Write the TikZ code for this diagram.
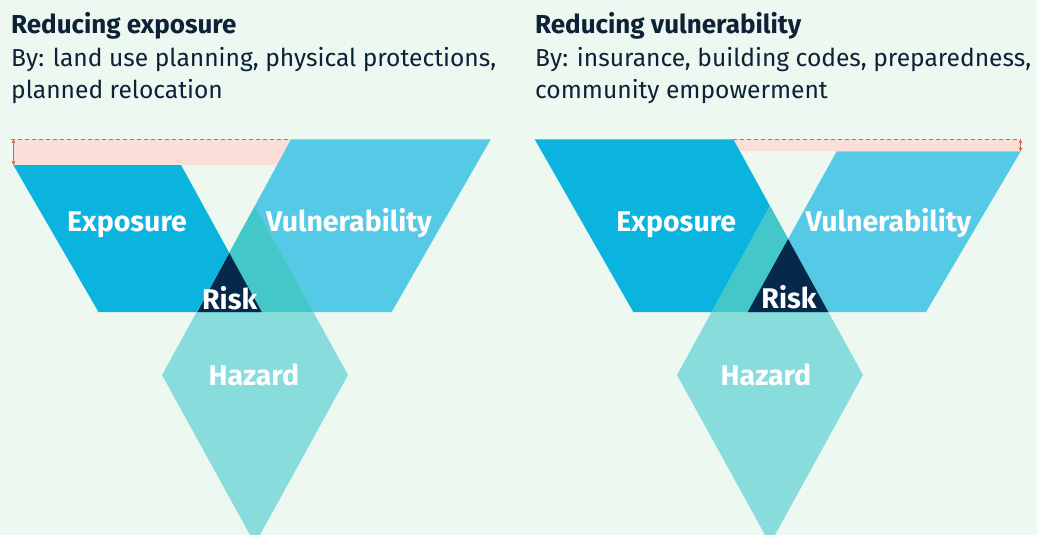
\documentclass[tikz,border=0pt]{standalone}
\usepackage{fontspec}
\setmainfont{Fira Sans}
\usetikzlibrary{arrows.meta}
\definecolor{rrbg}{HTML}{EDF8F1}
\definecolor{rrdark}{HTML}{0E2237}
\definecolor{rrexpo}{HTML}{0AB4DE}
\definecolor{rrvuln}{HTML}{55CAE6}
\definecolor{rrhaz}{HTML}{88DDDC}
\definecolor{rrmix}{HTML}{44C7C9}
\definecolor{rrrisk}{HTML}{06284A}
\definecolor{rrpink}{HTML}{FCDED8}
\definecolor{rrred}{HTML}{E5603E}
\tikzset{
  hd/.style={anchor=base west,inner sep=0pt,text=rrdark,
             font=\fontsize{26}{30}\selectfont\bfseries},
  txt/.style={anchor=base west,inner sep=0pt,text=rrdark,
              font=\fontsize{24.6}{30}\selectfont},
  lbl/.style={anchor=base,inner sep=0pt,text=white!94!rrbg,
              font=\fontsize{28.5}{30}\selectfont\bfseries},
  gap/.style={fill=rrpink},
  gapline/.style={draw=rrred,line width=1pt,dash pattern=on 4pt off 3pt},
  dim/.style={draw=rrred,line width=1pt,
              {Stealth[length=4pt,width=4pt]}-{Stealth[length=4pt,width=4pt]}},
}
% the three areas of each panel, as paths (pixel units, y pointing down)
\newcommand{\expL}{(13.3,165) -- (181,165) -- (261.7,312) -- (98.5,312) -- cycle}
\newcommand{\vulL}{(291,139.3) -- (490.7,139.3) -- (391.7,312) -- (197.3,312) -- cycle}
\newcommand{\hazL}{(255,206) -- (348,375) -- (255,544) -- (162,375) -- cycle}
\newcommand{\expR}{(534.7,139.3) -- (733.3,139.3) -- (828.3,312) -- (633.3,312) -- cycle}
\newcommand{\vulR}{(836.7,151.3) -- (1020.7,151.3) -- (926,312) -- (747.7,312) -- cycle}
\newcommand{\hazR}{(770,206) -- (863,375) -- (770,544) -- (677,375) -- cycle}
\begin{document}
\begin{tikzpicture}[x=1pt,y=-1pt]
  \useasboundingbox (0,0) rectangle (1037,535);
  \fill[rrbg] (0,0) rectangle (1037,535);
  \clip (0,0) rectangle (1037,535);

  % headings
  \node[hd] (tl) at (11,34) {Reducing exposure};
  \node[txt] (tl1) at (11,66.5) {By: land use planning, physical protections,};
  \node[txt] (tl2) at (11,99) {planned relocation};
  \node[hd] (tr) at (535,34) {Reducing vulnerability};
  \node[txt] (tr1) at (535,66.5) {By: insurance, building codes, preparedness,};
  \node[txt] (tr2) at (535,99) {community empowerment};

  % reduced margin bands
  \fill[gap] (13.3,139.3) rectangle (291,165);
  \fill[gap] (733.3,139.3) rectangle (1020.7,151.3);
  \coordinate (gLa) at (11,139.3);
  \coordinate (gLb) at (291,139.3);
  \coordinate (gRa) at (733.3,139.3);
  \coordinate (gRb) at (1020.7,139.3);
  \draw[gapline] (gLa) -- (gLb);
  \draw[gapline] (gRa) -- (gRb);
  \coordinate (dLa) at (13.5,139.3);
  \coordinate (dLb) at (13.5,165);
  \coordinate (dRa) at (1020.5,139.3);
  \coordinate (dRb) at (1020.5,151.3);
  \draw[dim] (dLa) -- (dLb);
  \draw[dim] (dRa) -- (dRb);

  % left panel
  \fill[rrexpo] \expL;
  \fill[rrvuln] \vulL;
  \fill[rrhaz] \hazL;
  \begin{scope}
    \clip \hazL;
    \fill[rrmix] \expL;
    \fill[rrmix] \vulL;
  \end{scope}
  \begin{scope}
    \clip \hazL;
    \clip \expL;
    \fill[rrrisk] \vulL;
  \end{scope}

  % right panel
  \fill[rrexpo] \expR;
  \fill[rrvuln] \vulR;
  \fill[rrhaz] \hazR;
  \begin{scope}
    \clip \hazR;
    \fill[rrmix] \expR;
    \fill[rrmix] \vulR;
  \end{scope}
  \begin{scope}
    \clip \hazR;
    \clip \expR;
    \fill[rrrisk] \vulR;
  \end{scope}

  % labels
  \node[lbl] (eL) at (127,231.7) {Exposure};
  \node[lbl] (vL) at (349,231.7) {Vulnerability};
  \node[lbl] (rL) at (229.7,309.3) {Risk};
  \node[lbl] (hL) at (253.8,385) {Hazard};
  \node[lbl] (eR) at (676.3,231.7) {Exposure};
  \node[lbl] (vR) at (888.5,231.7) {Vulnerability};
  \node[lbl] (rR) at (789,308) {Risk};
  \node[lbl] (hR) at (766,385) {Hazard};
\end{tikzpicture}
\end{document}
